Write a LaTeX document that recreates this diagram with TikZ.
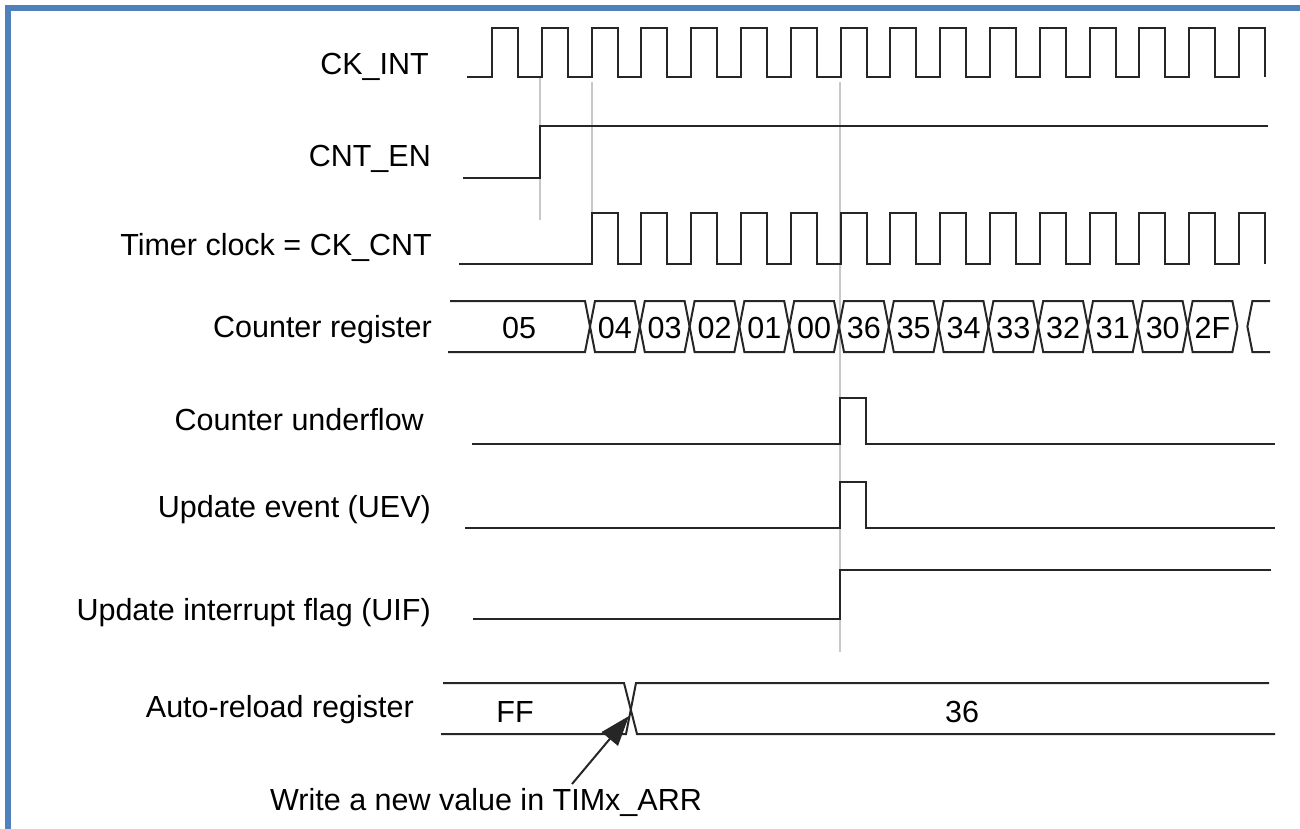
\documentclass[tikz,border=0pt]{standalone}
\usepackage{fontspec}
\setmainfont{Liberation Sans}
\usetikzlibrary{arrows.meta}
\definecolor{frameblue}{RGB}{79,129,189}
\definecolor{guidegray}{RGB}{200,200,200}
\begin{document}
\begin{tikzpicture}[x=1pt,y=-1pt,
  wave/.style={line width=2pt,line join=miter,black!85},
  guide/.style={line width=2.6pt,guidegray},
  lbl/.style={inner sep=0pt,font=\fontsize{30.5}{36}\selectfont},
  sig/.style={lbl,anchor=base east},
  val/.style={lbl,anchor=center}]
\useasboundingbox (0,0) rectangle (1300,829);
% frame
\draw[frameblue,line width=6pt] (8,829) -- (8,8) -- (1300,8);
% guide lines
\draw[guide] (540,78) -- (540,220);
\draw[guide] (592,82) -- (592,213);
\draw[guide] (840,82) -- (840,652);
% labels
\node[sig] (lckint) at (429,75) {CK\_INT};
\node[sig] (lcnten) at (431,167) {CNT\_EN};
\node[sig] (ltclk) at (432,255) {Timer clock = CK\_CNT};
\node[sig] (lcreg) at (432,337) {Counter register};
\node[sig] (lunder) at (424,430) {Counter underflow};
\node[sig] (luev) at (431,517) {Update event (UEV)};
\node[sig] (luif) at (431,620) {Update interrupt flag (UIF)};
\node[sig] (larr) at (414,717) {Auto-reload register};
\node[lbl,anchor=base west] (lwrite) at (270,810) {Write a new value in TIMx\_ARR};
% CK_INT
\draw[wave] (467,77) \foreach \k in {0,...,15}{
  -- ({492+49.8*\k},77) -- ({492+49.8*\k},28) -- ({518+49.8*\k},28) -- ({518+49.8*\k},77)};
% CNT_EN
\draw[wave] (463,178) -- (540,178) -- (540,126) -- (1268,126);
% Timer clock
\draw[wave] (459,264) \foreach \k in {2,...,15}{
  -- ({492+49.8*\k},264) -- ({492+49.8*\k},213) -- ({518+49.8*\k},213) -- ({518+49.8*\k},264)};
% Counter register
\draw[wave] (450,301) -- (585,301) -- (590,326.5) -- (585,352) -- (448,352);
\foreach \j/\v in {0/04,1/03,2/02,3/01,4/00,5/36,6/35,7/34,8/33,9/32,10/31,11/30,12/2F}{
  \pgfmathsetmacro{\ta}{590+49.8*\j}
  \pgfmathsetmacro{\tb}{590+49.8*(\j+1)}
  \draw[wave] (\ta,326.5) -- (\ta+5,301) -- (\tb-5,301) -- (\tb,326.5) -- (\tb-5,352) -- (\ta+5,352) -- cycle;
  \node[val] (c\j) at ({(\ta+\tb)/2},328) {\v};
}
\draw[wave] (1270,301) -- (1252.4,301) -- (1247.4,326.5) -- (1252.4,352) -- (1270,352);
\node[val] (c05) at (519,328) {05};
% Counter underflow
\draw[wave] (472,444) -- (840,444) -- (840,398) -- (866,398) -- (866,444) -- (1275,444);
% Update event
\draw[wave] (465,528) -- (840,528) -- (840,482) -- (866,482) -- (866,528) -- (1275,528);
% UIF
\draw[wave] (473,619) -- (840,619) -- (840,570) -- (1271,570);
% Auto-reload register
\draw[wave] (443,683) -- (624,683) -- (637,734) -- (1275,734);
\draw[wave] (441,734) -- (626,734) -- (636,683) -- (1269,683);
\node[val] (vff) at (515,712) {FF};
\node[val] (v36) at (962,712) {36};
% arrow
\coordinate (atip) at (629,716);
\coordinate (afoot) at (572,784);
\draw[line width=2pt,black!85,-{Triangle[length=30pt,width=21pt]}] (afoot) -- (atip);
\end{tikzpicture}
\end{document}
